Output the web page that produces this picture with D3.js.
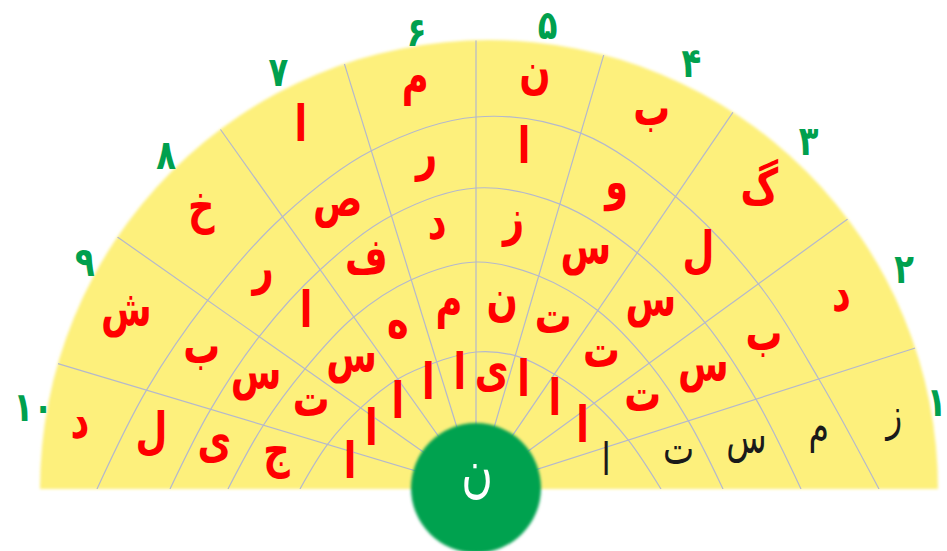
<!DOCTYPE html>
<html>
<head>
<meta charset="utf-8">
<script src="https://cdn.jsdelivr.net/npm/d3@7"></script>
<style>
  body { margin: 0; background: #fff; }
</style>
</head>
<body>
<div id="chart"></div>
<script>
// words read from the outer ring inwards, the last letter sits in the hub
const words = ["زمستان", "دبستان", "گلستان", "بوستان", "نازنین", "مردمان", "اصفهان", "خراسان", "شبستان", "دلیجان"];
const numbers = ["۱", "۲", "۳", "۴", "۵", "۶", "۷", "۸", "۹", "۱۰"];
const hubLetter = "ن";
const exampleSector = 0; // the solved one, in black

const W = 947, H = 551;
const cx = 476, cy = 489; // where the spokes meet
const fan = { x: 489, y: 489, r: 449 };
const hub = { x: cx, y: cy - 1, r: 65 };

// sector edges, degrees counter-clockwise from the right
const spokeDeg = [0, 17.8, 36, 55.7, 73.6, 90, 107.2, 125.4, 144.9, 163.3, 180];
// the hand drawn ring lines: distance from the centre on each spoke
const ringProfiles = [
  [185, 160, 146, 139, 139, 137, 133, 135, 141, 155, 176],
  [247, 223, 214, 216, 222, 227, 219, 211, 209, 222, 248],
  [325, 294, 283, 286, 297, 301, 286, 269, 265, 277, 306],
  [403, 360, 349, 354, 371, 372, 354, 334, 328, 344, 379],
];

const angle = d3.scaleLinear().domain(d3.range(11)).range(spokeDeg);
const ringScales = ringProfiles.map((p) => d3.scaleLinear().domain(spokeDeg).range(p));
// where the sector numbers sit round the rim
const numAngle = d3.scaleLinear()
  .domain(d3.range(10))
  .range([11, 28, 47.5, 64.6, 82.8, 99, 116.8, 134, 150.6, 169.8]);
const numRadius = d3.scaleLinear()
  .domain(d3.range(10))
  .range([456, 470, 473, 472, 468, 463, 467, 465, 464, 463]);
const rad = (d) => (d * Math.PI) / 180;

// distance from the spoke centre to a circle along a ray
function hit(theta, c) {
  const ux = Math.cos(theta), uy = -Math.sin(theta);
  const dx = cx - c.x, dy = cy - c.y;
  const b = dx * ux + dy * uy;
  return -b + Math.sqrt(b * b - (dx * dx + dy * dy) + c.r * c.r);
}

// ring k spans bound(k) .. bound(k + 1)
function bound(k, deg) {
  if (k === 0) return hub.r;
  if (k === 5) return hit(rad(deg), fan);
  return ringScales[k - 1](deg);
}

const svg = d3.select("#chart")
  .append("svg")
  .attr("width", W)
  .attr("height", H);

const defs = svg.append("defs");
defs.append("filter").attr("id", "soft")
  .attr("x", "-5%").attr("y", "-5%").attr("width", "110%").attr("height", "110%")
  .append("feGaussianBlur").attr("stdDeviation", 1.4);

const fanArc = d3.arc()
  .innerRadius(0)
  .outerRadius(fan.r)
  .startAngle(-Math.PI / 2)
  .endAngle(Math.PI / 2);

defs.append("clipPath").attr("id", "fanClip")
  .append("path")
  .attr("transform", `translate(${fan.x},${fan.y})`)
  .attr("d", fanArc());

svg.append("path")
  .attr("transform", `translate(${fan.x},${fan.y})`)
  .attr("d", fanArc())
  .attr("fill", "#fdf07c")
  .attr("filter", "url(#soft)");

const grid = svg.append("g").attr("clip-path", "url(#fanClip)");

const ringLine = d3.lineRadial()
  .angle((d, i) => rad(90 - spokeDeg[i]))
  .radius((d) => d)
  .curve(d3.curveCatmullRom);

grid.append("g")
  .attr("transform", `translate(${cx},${cy})`)
  .selectAll("path")
  .data(ringProfiles)
  .join("path")
  .attr("d", ringLine)
  .attr("fill", "none")
  .attr("stroke", "#b4b8cc")
  .attr("stroke-width", 1.2);

grid.selectAll("line.spoke")
  .data(d3.range(1, 10))
  .join("line")
  .attr("class", "spoke")
  .attr("x1", cx)
  .attr("y1", cy)
  .attr("x2", (i) => cx + Math.cos(rad(angle(i))) * hit(rad(angle(i)), fan))
  .attr("y2", (i) => cy - Math.sin(rad(angle(i))) * hit(rad(angle(i)), fan))
  .attr("stroke", "#b4b8cc")
  .attr("stroke-width", 1.2);

// one cell per sector and ring
const cells = [];
words.forEach((w, s) => {
  const letters = Array.from(w);
  const deg = angle(s + 0.5);
  for (let k = 0; k < 5; k++) {
    const f = k === 0 ? 0.62 : 0.52;
    const t = bound(k, deg) + (bound(k + 1, deg) - bound(k, deg)) * f;
    cells.push({
      s,
      k,
      ch: letters[4 - k],
      x: cx + Math.cos(rad(deg)) * t,
      y: cy - Math.sin(rad(deg)) * t,
    });
  }
});

svg.append("g")
  .selectAll("text")
  .data(cells)
  .join("text")
  .attr("transform", (d) => `translate(${d.x},${d.y}) scale(0.92,1.25)`)
  .attr("dy", "0.14em")
  .attr("text-anchor", "middle")
  .attr("font-family", "DejaVu Sans")
  .attr("font-weight", (d) => (d.s === exampleSector ? "normal" : "bold"))
  .attr("font-size", (d) => (d.s === exampleSector ? 36 : 40))
  .attr("fill", (d) => (d.s === exampleSector ? "#1a1a1a" : "#ff0000"))
  .text((d) => d.ch);

svg.append("g")
  .selectAll("text")
  .data(numbers)
  .join("text")
  .attr("transform", (d, i) => {
    const a = rad(numAngle(i)), r = numRadius(i);
    return `translate(${fan.x + Math.cos(a) * r},${fan.y - Math.sin(a) * r}) scale(0.95,1.2)`;
  })
  .attr("dy", "0.35em")
  .attr("text-anchor", "middle")
  .attr("font-family", "DejaVu Sans")
  .attr("font-weight", "bold")
  .attr("font-size", 34)
  .attr("fill", "#00a04e")
  .text((d) => d);

svg.append("circle")
  .attr("cx", hub.x)
  .attr("cy", hub.y)
  .attr("r", hub.r)
  .attr("fill", "#00a24f")
  .attr("filter", "url(#soft)");

svg.append("text")
  .attr("transform", `translate(${hub.x + 1},${hub.y}) scale(0.9,1.2)`)
  .attr("dy", "0.05em")
  .attr("text-anchor", "middle")
  .attr("font-family", "DejaVu Sans")
  .attr("font-size", 48)
  .attr("fill", "#fff")
  .text(hubLetter);
</script>
</body>
</html>
